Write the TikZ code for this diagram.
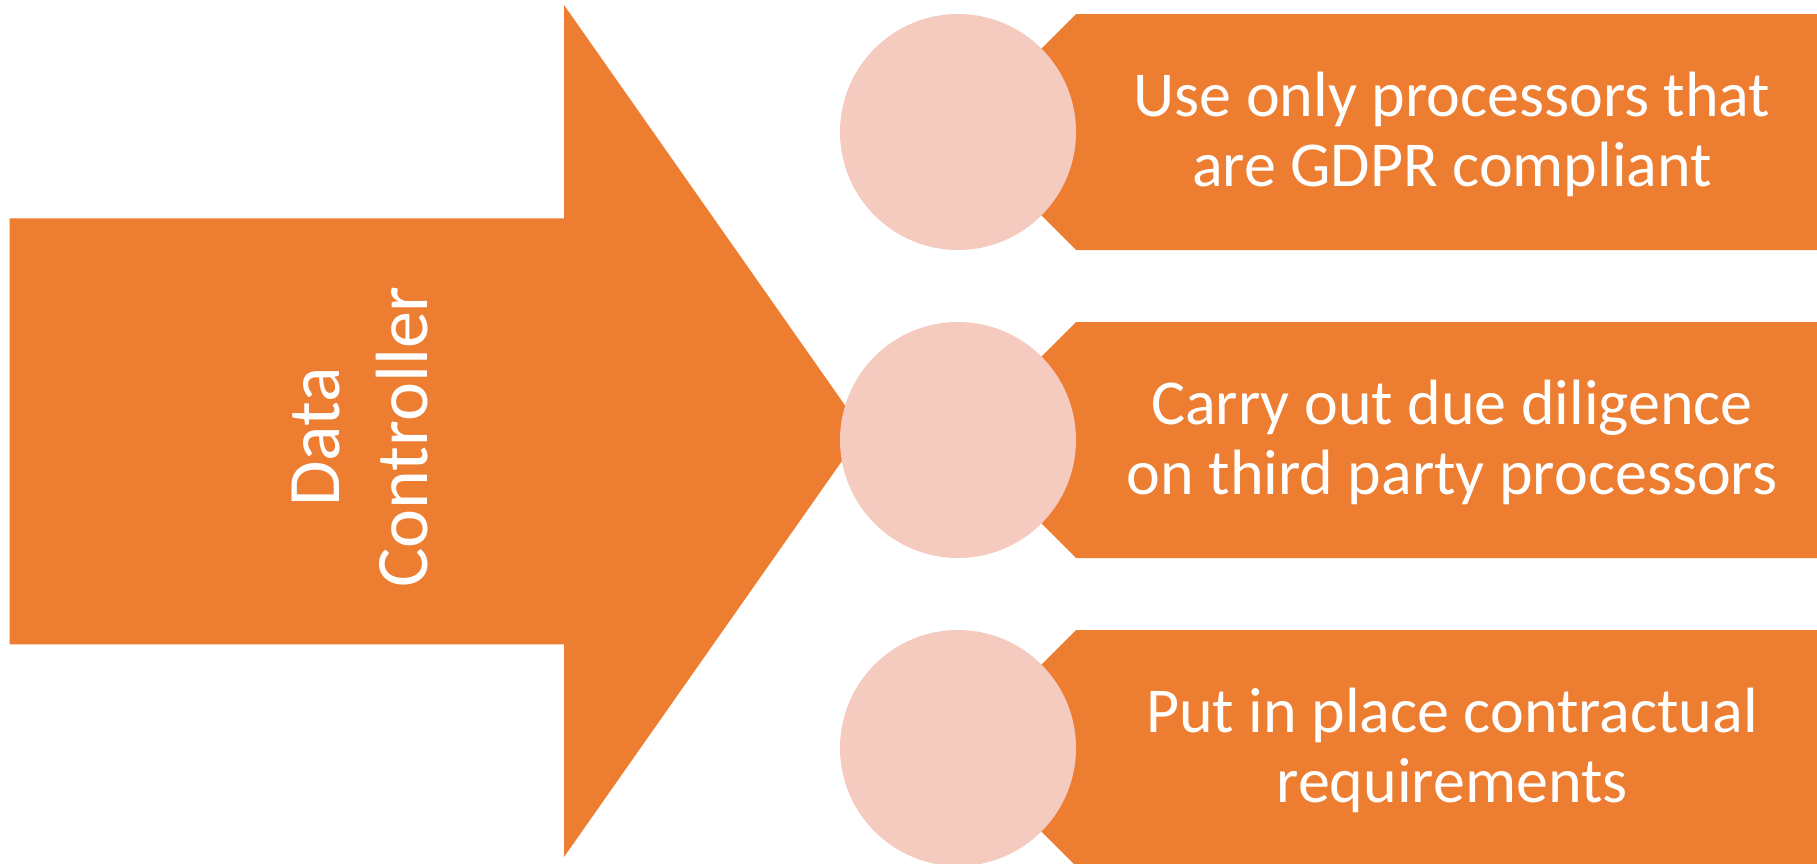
\documentclass[tikz,border=0pt]{standalone}
\usepackage{fontspec}
\setmainfont{Carlito}

\definecolor{ctrlorange}{HTML}{ED7D31}
\definecolor{dotpink}{HTML}{F5CBBF}

\tikzset{
  bodyfill/.style={fill=ctrlorange, draw=none},
  pinkdot/.style={circle, fill=dotpink, draw=none, minimum size=236pt, inner sep=0pt},
  ctrltext/.style={text=white, align=center, inner sep=0pt, rotate=90,
    font=\fontsize{74}{88}\selectfont},
  tabtext/.style={text=white, align=center, inner sep=0pt,
    font=\fontsize{64}{70}\selectfont}
}

\begin{document}
\begin{tikzpicture}[x=1pt, y=-1pt]
    \clip (0,0) rectangle (1817,863);
    % big arrow
    \fill[bodyfill] (9.5,218.3) -- (564,218.3) -- (564,5) -- (863,431)
        -- (564,857) -- (564,644.3) -- (9.5,644.3) -- cycle;
    \node[ctrltext] (ctrl) at (360,437) {Data\\Controller};
    % circle centres
    \coordinate (p1) at (958,132);
    \coordinate (p2) at (958,440);
    \coordinate (p3) at (958,748);
    % tabs
    \fill[bodyfill] (p1) -- ++(118,-118) -- (1817,14) -- (1817,250) -- (1076,250) -- cycle;
    \fill[bodyfill] (p2) -- ++(118,-118) -- (1817,322) -- (1817,558) -- (1076,558) -- cycle;
    \fill[bodyfill] (p3) -- ++(118,-118) -- (1817,630) -- (1817,866) -- (1076,866) -- cycle;
    % circles
    \node[pinkdot] (c1) at (p1) {};
    \node[pinkdot] (c2) at (p2) {};
    \node[pinkdot] (c3) at (p3) {};
    % texts
    \node[tabtext] (t1) at (1452,134) {Use only processors that\\are GDPR compliant};
    \node[tabtext] (t2) at (1452,442) {Carry out due diligence\\on third party processors};
    \node[tabtext] (t3) at (1452,750) {Put in place contractual\\requirements};
\end{tikzpicture}
\end{document}
